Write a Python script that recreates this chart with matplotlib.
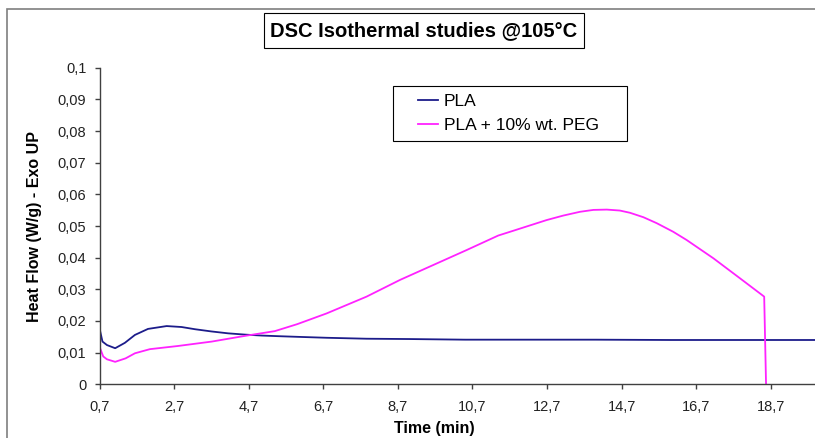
import matplotlib
matplotlib.use("Agg")
import matplotlib.pyplot as plt
from matplotlib.patches import Rectangle

plt.rcParams['font.family'] = ['Liberation Sans', 'DejaVu Sans']

pla_t = [0.7, 0.78, 0.9, 1.12, 1.38, 1.65, 2.0, 2.5, 2.9, 3.26, 3.7, 4.15, 4.6, 5.05,
         5.5, 6.0, 6.79, 7.86, 9.0, 10.5, 12.0, 14.0, 16.0, 18.0, 19.9]
pla = [0.0177, 0.0135, 0.0124, 0.0114, 0.0131, 0.0156, 0.0175, 0.0184, 0.0181, 0.0174,
       0.0167, 0.0161, 0.0157, 0.0154, 0.0152, 0.0150, 0.0147, 0.0144, 0.0143, 0.0141,
       0.0141, 0.0141, 0.0140, 0.0140, 0.0140]

peg_t = [0.7, 0.8, 0.9, 1.12, 1.4, 1.65, 2.05, 2.8, 3.71, 4.6, 5.4, 6.0, 6.79, 7.86,
         8.76, 9.65, 10.54, 11.39, 11.79, 12.69, 13.13, 13.58, 13.94, 14.3, 14.65, 14.92,
         15.28, 15.64, 16.08, 16.44, 17.16, 17.87, 18.52, 18.57]
peg = [0.0119, 0.0088, 0.0079, 0.0071, 0.0082, 0.0098, 0.0111, 0.0121, 0.0135, 0.0153,
       0.0168, 0.0190, 0.0224, 0.0277, 0.0330, 0.0377, 0.0424, 0.0470, 0.0485, 0.0519,
       0.0533, 0.0545, 0.0551, 0.0552, 0.0549, 0.0542, 0.0528, 0.0509, 0.0482, 0.0456,
       0.0398, 0.0335, 0.0277, 0.0]

x_ticks = [0.7, 2.7, 4.7, 6.7, 8.7, 10.7, 12.7, 14.7, 16.7, 18.7]
y_ticks = [0, 0.01, 0.02, 0.03, 0.04, 0.05, 0.06, 0.07, 0.08, 0.09, 0.1]
labels = ["PLA", "PLA + 10% wt. PEG"]
title = "DSC Isothermal studies @105°C"

W, H = 815, 438
fig = plt.figure(figsize=(W / 100, H / 100), dpi=100)

def fx(px):
    return px / W

def fy(py):
    return 1 - py / H

# outer frame
fig.patches.append(Rectangle((fx(7), -0.1), 1.2, fy(9) + 0.1, transform=fig.transFigure,
                             fill=False, edgecolor='#7f7f7f', linewidth=1.2))

left, bottom, top = fx(99.5), fy(384.3), fy(67.8)
ax = fig.add_axes([left, bottom, 1 - left, top - bottom])
ax.plot(pla_t, pla, color='#1c1c8a', linewidth=1.3, label=labels[0])
ax.plot(peg_t, peg, color='#ff22ff', linewidth=1.3, label=labels[1])

ax.set_xlim(0.7, 0.7 + (W - 99.5) / 37.3)
ax.set_ylim(0, 0.1)
ax.set_xticks(x_ticks)
ax.set_xticklabels([f"{v:g}".replace('.', ',') for v in x_ticks])
ax.set_yticks(y_ticks)
ax.set_yticklabels([f"{v:g}".replace('.', ',') for v in y_ticks])
for s in ['top', 'right']:
    ax.spines[s].set_visible(False)
for s in ['left', 'bottom']:
    ax.spines[s].set_color('#404040')
    ax.spines[s].set_linewidth(1.0)
ax.tick_params(axis='both', direction='out', length=3.5, width=1, color='#404040',
               labelsize=10.5, labelcolor='#222222')
ax.tick_params(axis='x', pad=8)
ax.tick_params(axis='y', pad=6)

fig.text(fx(35), fy(226), "Heat Flow (W/g) - Exo UP", fontsize=11.5, fontweight='bold',
         rotation=90, ha='center', va='center')
fig.text(fx(434), fy(429), "Time (min)", fontsize=11.5, fontweight='bold',
         ha='center', va='center')

# title box
fig.patches.append(Rectangle((fx(264), fy(48)), fx(584) - fx(264), fy(13) - fy(48),
                             transform=fig.transFigure, fill=True, facecolor='white',
                             edgecolor='black', linewidth=0.8))
fig.text(fx(424), fy(30.5), title, fontsize=14.5, fontweight='bold', ha='center', va='center')

# legend box (drawn inside the axes so the legend sits on top of it)
ax.add_patch(Rectangle((fx(393), fy(141)), fx(627) - fx(393), fy(86) - fy(141),
                       transform=fig.transFigure, fill=True, facecolor='white',
                       edgecolor='black', linewidth=0.8, zorder=4, clip_on=False))
leg = ax.legend(loc='upper left', bbox_to_anchor=(fx(418), fy(94)), bbox_transform=fig.transFigure,
                fontsize=12.5, frameon=False, handlelength=1.15, handletextpad=0.33,
                borderpad=0, labelspacing=0.5, borderaxespad=0)
leg.set_zorder(5)

fig.savefig("out.png", dpi=100)
